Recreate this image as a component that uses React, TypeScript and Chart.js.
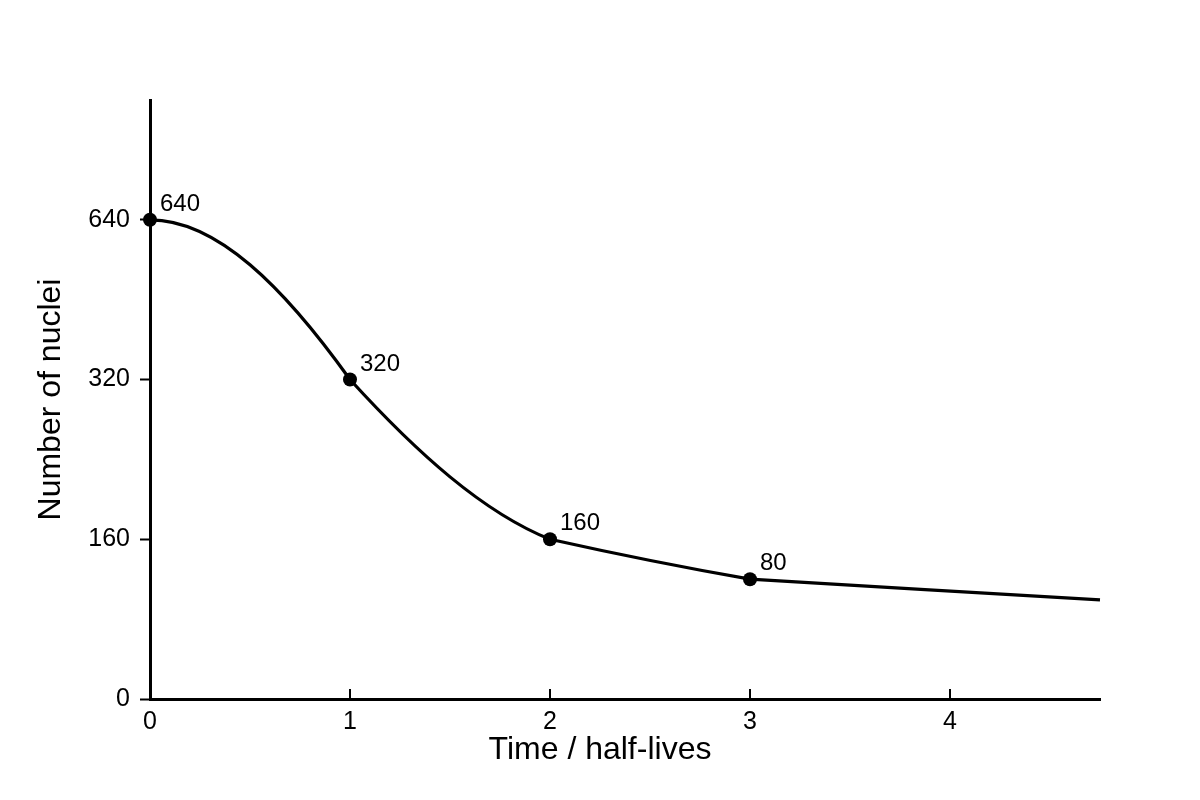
import { useEffect, useRef } from 'react';
import Chart from 'chart.js/auto';

// time axis (half-lives) and where each point sits on the evenly spaced nuclei axis
const X_HALF_LIVES = [0, 1, 2, 3, 4.75];
const Y_LEVEL = [3, 2, 1, 0.75, 0.62];
const POINT_LABELS = ['640', '320', '160', '80', ''];

// tangent of the drawn curve at each point, in axis units (in = left side, out = right side)
const SLOPE_IN = [0, -1.75, -0.5, -0.22, -0.07];
const SLOPE_OUT = [0, -1.375, -0.28, -0.07, 0];

const X_TICKS = [0, 1, 2, 3, 4];
const Y_TICKS = [0, 1, 2, 3];
const Y_TICK_LABELS = ['0', '160', '320', '640'];

const X_TITLE = 'Time / half-lives';
const Y_TITLE = 'Number of nuclei';

const FONT = '"Liberation Sans", Arial, sans-serif';
const INK = '#000';

// shape the curve with the tangents above, on top of the library's own point positions
const tangentCurve = {
  id: 'tangentCurve',
  beforeDatasetDraw(chart: any, args: any) {
    const meta = args.meta;
    const line = meta.dataset;
    if (!line) return;
    line.updateControlPoints(chart.chartArea, 'x');
    const xs = chart.scales.x;
    const ys = chart.scales.y;
    const k =
      (ys.getPixelForValue(1) - ys.getPixelForValue(0)) /
      (xs.getPixelForValue(1) - xs.getPixelForValue(0));
    const pts = meta.data;
    pts.forEach((p: any, i: number) => {
      const prev = pts[i - 1];
      const next = pts[i + 1];
      if (prev) {
        const h = (p.x - prev.x) / 3;
        p.cp1x = p.x - h;
        p.cp1y = p.y - SLOPE_IN[i] * k * h;
      }
      if (next) {
        const h = (next.x - p.x) / 3;
        p.cp2x = p.x + h;
        p.cp2y = p.y + SLOPE_OUT[i] * k * h;
      }
    });
    line._path = undefined;
  }
};

const decorations = {
  id: 'decorations',
  afterDraw(chart: any) {
    const { ctx, chartArea } = chart;
    const xs = chart.scales.x;
    ctx.save();

    // x ticks point inwards
    ctx.strokeStyle = INK;
    ctx.lineWidth = 2;
    xs.ticks.forEach((t: any) => {
      if (t.value === 0) return;
      const px = xs.getPixelForValue(t.value);
      ctx.beginPath();
      ctx.moveTo(px, chartArea.bottom);
      ctx.lineTo(px, chartArea.bottom - 10);
      ctx.stroke();
    });

    // point labels
    ctx.fillStyle = INK;
    ctx.font = `24px ${FONT}`;
    ctx.textAlign = 'left';
    ctx.textBaseline = 'alphabetic';
    chart.getDatasetMeta(0).data.forEach((p: any, i: number) => {
      if (!POINT_LABELS[i]) return;
      ctx.fillText(POINT_LABELS[i], p.x + 10, p.y - 9);
    });

    // x axis title, centred on the page
    ctx.font = `32px ${FONT}`;
    ctx.textAlign = 'center';
    ctx.fillText(X_TITLE, chart.width / 2, 759);
    ctx.restore();
  }
};

export default function App() {
  const canvasRef = useRef<HTMLCanvasElement | null>(null);

  useEffect(() => {
    document.body.style.margin = '0';
    if (!canvasRef.current) return;

    const chart = new Chart(canvasRef.current, {
      type: 'line',
      data: {
        datasets: [
          {
            data: X_HALF_LIVES.map((x, i) => ({ x, y: Y_LEVEL[i] })),
            borderColor: INK,
            borderWidth: 3.2,
            tension: 0.4,
            clip: false,
            pointRadius: (c: any) => (POINT_LABELS[c.dataIndex] ? 7 : 0),
            pointHoverRadius: (c: any) => (POINT_LABELS[c.dataIndex] ? 7 : 0),
            pointBackgroundColor: INK,
            pointBorderWidth: 0
          }
        ]
      },
      options: {
        responsive: false,
        animation: false,
        events: [],
        layout: {
          padding: { top: 100, right: 100, left: 0, bottom: 0 }
        },
        plugins: {
          legend: { display: false },
          tooltip: { enabled: false }
        },
        scales: {
          x: {
            type: 'linear',
            min: 0,
            max: 4.75,
            afterBuildTicks: (s: any) => {
              s.ticks = X_TICKS.map((v) => ({ value: v }));
            },
            afterFit: (s: any) => {
              s.height = 101;
            },
            grid: { display: false, drawTicks: false, tickLength: 0 },
            border: { display: true, color: INK, width: 3 },
            ticks: {
              color: INK,
              font: { family: FONT, size: 25 },
              padding: 8,
              maxRotation: 0
            }
          },
          y: {
            type: 'linear',
            min: 0,
            max: 3.75,
            afterBuildTicks: (s: any) => {
              s.ticks = Y_TICKS.map((v) => ({ value: v }));
            },
            afterFit: (s: any) => {
              s.width = 150;
            },
            grid: {
              display: true,
              drawOnChartArea: false,
              drawTicks: true,
              tickLength: 10,
              color: INK,
              tickColor: INK,
              tickWidth: 2
            },
            border: { display: true, color: INK, width: 3 },
            ticks: {
              color: INK,
              font: { family: FONT, size: 25 },
              padding: 10,
              callback: (v: any) => Y_TICK_LABELS[Y_TICKS.indexOf(Number(v))] ?? ''
            },
            title: {
              display: true,
              text: Y_TITLE,
              color: INK,
              font: { family: FONT, size: 32 },
              padding: { top: 32, bottom: 0 }
            }
          }
        }
      },
      plugins: [tangentCurve, decorations]
    });

    return () => {
      chart.destroy();
    };
  }, []);

  return (
    <div style={{ width: 1200, height: 800, background: '#fff' }}>
      <canvas ref={canvasRef} width={1200} height={800}></canvas>
    </div>
  );
}
